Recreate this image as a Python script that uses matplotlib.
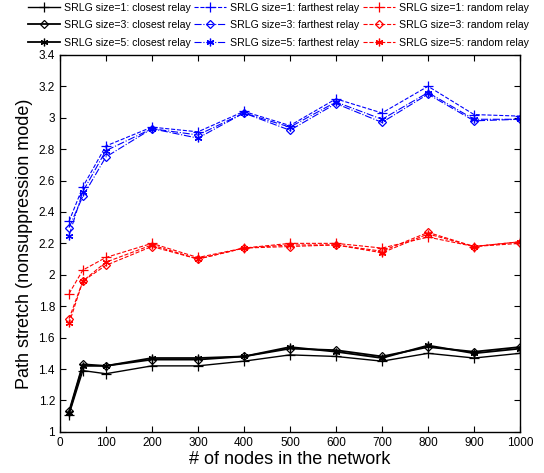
import matplotlib
matplotlib.use("Agg")
import matplotlib.pyplot as plt

plt.rcParams['font.family'] = ['Liberation Sans', 'DejaVu Sans']

nodes = [20, 50, 100, 200, 300, 400, 500, 600, 700, 800, 900, 1000]

closest_s1 = [1.11, 1.39, 1.37, 1.42, 1.42, 1.45, 1.49, 1.48, 1.45, 1.50, 1.47, 1.50]
closest_s3 = [1.13, 1.43, 1.42, 1.46, 1.46, 1.48, 1.53, 1.52, 1.48, 1.54, 1.51, 1.54]
closest_s5 = [1.12, 1.42, 1.42, 1.47, 1.47, 1.48, 1.54, 1.51, 1.47, 1.55, 1.50, 1.53]

farthest_s1 = [2.34, 2.56, 2.82, 2.94, 2.91, 3.04, 2.95, 3.12, 3.03, 3.20, 3.02, 3.01]
farthest_s3 = [2.30, 2.50, 2.75, 2.93, 2.89, 3.03, 2.92, 3.09, 2.97, 3.15, 2.98, 2.99]
farthest_s5 = [2.25, 2.53, 2.79, 2.93, 2.87, 3.03, 2.94, 3.10, 2.99, 3.16, 2.99, 2.99]

random_s1 = [1.88, 2.03, 2.11, 2.20, 2.11, 2.17, 2.20, 2.20, 2.17, 2.24, 2.18, 2.21]
random_s3 = [1.72, 1.96, 2.06, 2.18, 2.10, 2.17, 2.18, 2.19, 2.15, 2.27, 2.18, 2.20]
random_s5 = [1.69, 1.96, 2.08, 2.19, 2.10, 2.17, 2.19, 2.19, 2.14, 2.26, 2.18, 2.21]

labels = [
    "SRLG size=1: closest relay", "SRLG size=3: closest relay", "SRLG size=5: closest relay",
    "SRLG size=1: farthest relay", "SRLG size=3: farthest relay", "SRLG size=5: farthest relay",
    "SRLG size=1: random relay", "SRLG size=3: random relay", "SRLG size=5: random relay",
]

fig = plt.figure(figsize=(5.44, 4.73), dpi=100)
ax = fig.add_axes([0.110, 0.087, 0.846, 0.797])

ASTER = (6, 2, 0)
series = [
    (closest_s1, 'k', '-', '+', 1.0), (closest_s3, 'k', '-', 'D', 1.3), (closest_s5, 'k', '-', ASTER, 1.3),
    (farthest_s1, 'b', '--', '+', 0.8), (farthest_s3, 'b', '-.', 'D', 0.8), (farthest_s5, 'b', '-.', ASTER, 0.8),
    (random_s1, 'r', '--', '+', 0.8), (random_s3, 'r', '--', 'D', 0.8), (random_s5, 'r', '--', ASTER, 0.8),
]
handles = []
for (vals, c, ls, m, lw), lab in zip(series, labels):
    if m == 'D':
        kw = dict(markerfacecolor='none', markersize=4.5)
    elif m == '+':
        kw = dict(markersize=6.5)
    else:
        kw = dict(markersize=5.5)
    h, = ax.plot(nodes, vals, color=c, linestyle=ls, marker=m,
                 linewidth=lw, markeredgewidth=0.9, label=lab, **kw)
    handles.append(h)

ax.set_xlim(0, 1000)
ax.set_ylim(1, 3.4)
ax.set_xticks(range(0, 1001, 100))
yt = [1 + 0.2 * i for i in range(13)]
ax.set_yticks(yt)
ax.set_yticklabels(["%g" % round(v, 1) for v in yt])
ax.tick_params(direction='in', top=True, right=True, labelsize=8.5, length=4)
for s in ax.spines.values():
    s.set_linewidth(1.0)

ax.set_xlabel("# of nodes in the network", fontsize=13, labelpad=2)
ax.set_ylabel("Path stretch (nonsuppression mode)", fontsize=13, labelpad=4)

fig.legend(handles=handles, labels=labels, loc='upper center', ncol=3,
           bbox_to_anchor=(0.512, 1.008), frameon=False, fontsize=7.6,
           handlelength=3.0, columnspacing=0.35, handletextpad=0.4,
           labelspacing=0.72, borderaxespad=0.2)

fig.savefig("out.png", dpi=100)
